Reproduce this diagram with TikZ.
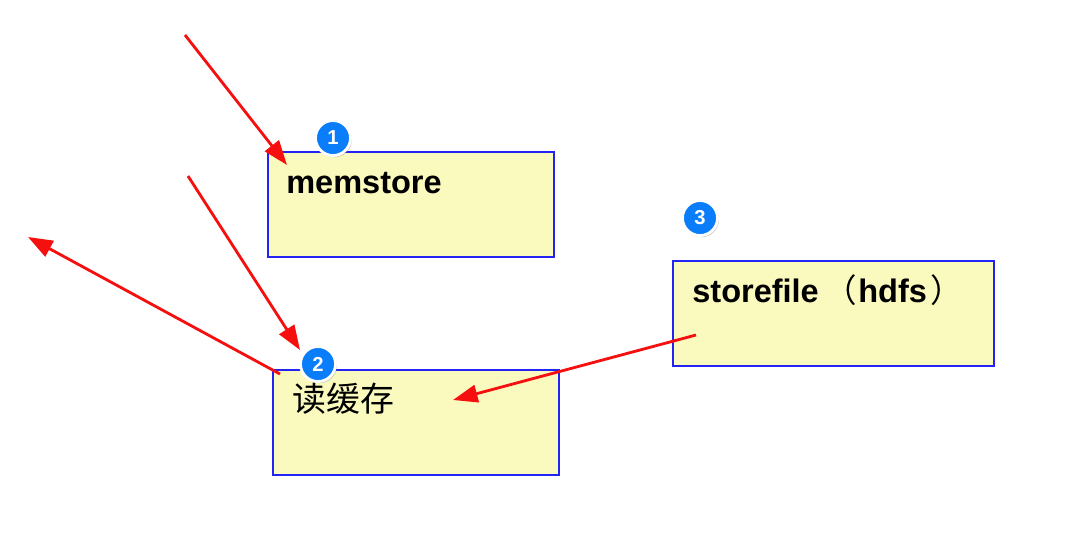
\documentclass[tikz,border=0pt]{standalone}
\usepackage{fontspec}
\setmainfont{Liberation Sans}
\newfontfamily\cjk{Noto Sans CJK SC}
\usetikzlibrary{arrows.meta,shadows,calc}
\definecolor{cnote}{RGB}{250,250,190}
\definecolor{cnoteline}{RGB}{35,35,245}
\definecolor{cbadge}{RGB}{10,125,250}
\definecolor{carrow}{RGB}{245,15,15}
\tikzset{
  notebox/.style={draw=cnoteline,fill=cnote,line width=1.1pt,inner sep=0pt,
    outer sep=0pt,anchor=north west,minimum height=2.1cm},
  notetext/.style={anchor=base west,inner sep=0pt,font=\fontsize{18.5}{22}\selectfont\bfseries},
  badge/.style={circle,fill=cbadge,draw=white,line width=1.6pt,minimum size=0.7cm,inner sep=0pt,
    text=white,font=\fontsize{11.5}{13}\selectfont\bfseries,
    drop shadow={opacity=0.4,shadow xshift=0.8pt,shadow yshift=-1pt}},
  flow/.style={draw=carrow,line width=1.6pt,-{Triangle[length=14pt,width=10pt]}}
}

\begin{document}
\begin{tikzpicture}[x=0.02cm,y=-0.02cm]

  % Explicit bounding box, same proportions as the screenshot.
  \path (0,0) rectangle (1069,539);

  % ---------------- Notes ----------------
  \node[notebox,minimum width=5.72cm] (mem) at (268,152) {};
  \node[notetext] (memtxt) at (286,193) {memstore};

  \node[notebox,minimum width=5.72cm] (cache) at (273,370) {};
  \node[notetext,font=\fontsize{19.3}{22}\selectfont\cjk] (cachetxt) at (292,411) {读缓存};

  \node[notebox,minimum width=6.42cm] (sfile) at (673,261) {};
  \node[notetext] (sfiletxt) at (692,302)
    {storefile\kern3pt{\mdseries\cjk （}\kern1pt hdfs\kern2pt{\mdseries\cjk ）}};

  % ---------------- Arrows ----------------
  \coordinate (in1)   at (185,35);
  \coordinate (hit1)  at (287,165);
  \coordinate (in2)   at (188,176);
  \coordinate (hit2)  at (300,350);
  \coordinate (out2)  at (280,374);
  \coordinate (away)  at (28,237);
  \coordinate (from3) at (696,335);
  \coordinate (hit3)  at (453,400);

  \draw[flow] (in1) -- (hit1);
  \draw[flow] (in2) -- (hit2);
  \draw[flow] (out2) -- (away);
  \draw[flow] (from3) -- (hit3);

  % ---------------- Step badges ----------------
  \node[badge] (b1) at (333,138) {1};
  \node[badge] (b2) at (318,364) {2};
  \node[badge] (b3) at (700,218) {3};

\end{tikzpicture}
\end{document}
